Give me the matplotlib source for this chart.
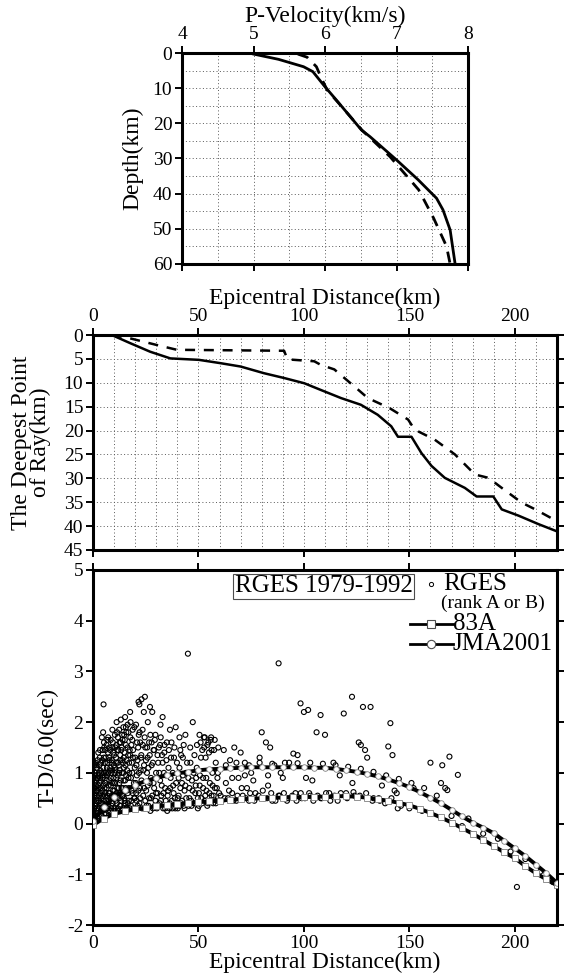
import numpy as np
import matplotlib
matplotlib.use("Agg")
import matplotlib.pyplot as plt
from matplotlib.lines import Line2D

plt.rcParams['font.family'] = ['Liberation Serif', 'DejaVu Serif']
plt.rcParams['axes.unicode_minus'] = False

# --- top panel: P-velocity profiles (velocity km/s, depth km)
vel_solid = [5.0, 5.35, 5.70, 5.83, 6.00, 6.16, 6.51, 6.63, 7.00, 7.30, 7.56, 7.65, 7.75, 7.82]
dep_solid = [0.3, 1.8, 3.9, 5.3, 9.6, 13.4, 21.9, 23.8, 30.4, 36.0, 41.3, 44.6, 50.3, 60.0]
vel_dash = [5.62, 5.75, 5.88, 5.95, 6.03, 6.18, 6.52, 6.91, 7.31, 7.52, 7.70, 7.75]
dep_dash = [0.3, 1.2, 3.9, 7.2, 10.5, 14.0, 22.0, 29.5, 38.9, 47.0, 55.0, 60.0]

# --- middle panel: deepest point of ray vs epicentral distance
ray_dist_solid = [8.9, 17.6, 27.1, 36.7, 50.2, 60.5, 70.0, 81.1, 90.6, 100.2, 108.0, 117.6,
                  127.0, 135.0, 141.4, 144.6, 151.0, 155.7, 160.5, 166.8, 176.3, 181.9,
                  189.8, 193.8, 201.7, 211.3, 220.0]
ray_dep_solid = [0.0, 1.7, 3.5, 4.9, 5.2, 5.9, 6.6, 8.0, 9.0, 10.1, 11.5, 13.2,
                 14.6, 16.7, 19.1, 21.3, 21.3, 24.7, 27.4, 29.9, 32.0, 33.8,
                 33.8, 36.5, 37.8, 39.6, 41.1]
ray_dist_dash = [8.9, 17.6, 30.3, 39.8, 90.6, 92.2, 104.9, 108.0, 114.4, 119.2, 124.8,
                 130.3, 140.6, 149.4, 152.5, 162.0, 171.6, 181.1, 187.5, 193.8, 203.3,
                 209.7, 217.6]
ray_dep_dash = [0.0, 0.7, 2.1, 3.1, 3.3, 5.1, 5.5, 6.25, 7.2, 9.0, 11.1,
                13.2, 15.3, 17.7, 19.8, 21.9, 25.0, 29.2, 29.9, 32.0, 35.1,
                36.5, 38.4]

# --- bottom panel: travel-time residual curves
model_dist = [0, 5, 10, 15, 20, 25, 30, 35, 40, 45, 50, 55, 60, 65, 70, 75, 80, 85, 90,
              95, 100, 105, 110, 115, 120, 125, 130, 135, 140, 145, 150, 155, 160, 165,
              170, 175, 180, 185, 190, 195, 200, 205, 210, 215, 220]
td_jma2001 = [0.05, 0.32, 0.52, 0.66, 0.76, 0.84, 0.90, 0.95, 0.99, 1.02, 1.05, 1.07, 1.08,
              1.09, 1.10, 1.11, 1.11, 1.11, 1.11, 1.11, 1.11, 1.10, 1.10, 1.08, 1.05, 1.02,
              0.98, 0.93, 0.87, 0.80, 0.72, 0.62, 0.51, 0.40, 0.27, 0.14, 0.02, -0.08,
              -0.19, -0.34, -0.49, -0.64, -0.81, -0.98, -1.17]
td_83a = [-0.03, 0.10, 0.19, 0.24, 0.28, 0.31, 0.34, 0.36, 0.38, 0.40, 0.42, 0.44, 0.45,
          0.47, 0.48, 0.49, 0.50, 0.51, 0.51, 0.52, 0.52, 0.53, 0.53, 0.54, 0.54, 0.53,
          0.51, 0.48, 0.45, 0.41, 0.36, 0.29, 0.21, 0.12, 0.02, -0.09, -0.20, -0.32,
          -0.44, -0.57, -0.68, -0.84, -0.98, -1.10, -1.22]

rges_pts = [
    (0.3, 0.05), (0.5, 0.3), (0.6, 0.55), (0.8, 0.8), (1.0, 1.0), (0.4, 0.7), (1.2, 0.15),
    (1.5, 0.45), (1.7, 0.65), (1.9, 0.9), (2.0, 1.1), (1.3, 1.2), (0.7, 0.95), (1.1, 0.35),
    (1.8, 0.25), (0.2, 0.45), (0.9, 0.6), (1.6, 0.85), (0.4, 0.2), (1.4, 0.75), (0.6, 1.15),
    (2.2, 0.2), (2.4, 0.5), (2.6, 0.7), (2.8, 1.0), (3.0, 1.15), (3.2, 0.35), (3.4, 0.6),
    (3.6, 0.85), (3.8, 1.2), (2.5, 1.4), (3.1, 0.1), (3.5, 1.05), (2.9, 0.45), (3.9, 0.5),
    (2.3, 0.9), (3.3, 1.45), (3.7, 0.25), (2.7, 0.3), (3.2, 0.8), (2.1, 0.65),
    (4.1, 0.15), (4.3, 0.4), (4.5, 0.65), (4.7, 0.9), (4.9, 1.1), (5.1, 1.3), (5.3, 1.5),
    (5.5, 0.3), (5.7, 0.55), (5.9, 0.8), (4.4, 1.25), (5.0, 2.35), (4.8, 1.8), (5.2, 1.0),
    (5.6, 1.2), (4.6, 0.25), (5.8, 1.45), (4.2, 1.7), (4.5, 0.95), (5.4, 0.7),
    (6.1, 0.2), (6.3, 0.45), (6.5, 0.7), (6.7, 0.95), (6.9, 1.2), (7.1, 1.4), (7.3, 0.35),
    (7.5, 0.6), (7.7, 0.85), (7.9, 1.05), (6.4, 1.55), (7.2, 1.7), (6.8, 0.3), (7.6, 1.3),
    (6.2, 1.0), (7.8, 1.5), (7.0, 0.55),
    (8.1, 0.25), (8.3, 0.5), (8.5, 0.75), (8.7, 1.0), (8.9, 1.25), (9.1, 1.5), (9.3, 0.4),
    (9.5, 0.65), (9.7, 0.9), (9.9, 1.15), (8.4, 1.65), (9.2, 1.85), (8.8, 0.35), (9.6, 1.4),
    (8.2, 1.1), (9.8, 0.55), (9.0, 0.8),
    (10.1, 0.3), (10.3, 0.55), (10.5, 0.8), (10.7, 1.05), (10.9, 1.3), (11.1, 1.55),
    (11.3, 0.4), (11.5, 0.7), (11.7, 0.95), (11.9, 1.2), (10.4, 1.75), (11.2, 2.0),
    (10.8, 0.45), (11.6, 1.45), (10.2, 1.0), (11.8, 1.7), (11.0, 0.6),
    (12.1, 0.25), (12.3, 0.5), (12.5, 0.8), (12.7, 1.05), (12.9, 1.35), (13.1, 1.6),
    (13.3, 0.45), (13.5, 0.7), (13.7, 1.0), (13.9, 1.25), (12.4, 1.85), (13.2, 2.05),
    (12.8, 0.6), (13.6, 1.5), (12.2, 1.15), (13.8, 1.75), (13.0, 0.35),
    (14.1, 0.3), (14.3, 0.55), (14.5, 0.85), (14.7, 1.1), (14.9, 1.4), (15.1, 1.65),
    (15.3, 0.4), (15.5, 0.7), (15.7, 0.95), (15.9, 1.25), (14.4, 1.9), (15.2, 2.1),
    (14.8, 0.5), (15.6, 1.55), (14.2, 1.2), (15.8, 1.8), (15.0, 0.35),
    (16.2, 0.3), (16.5, 0.6), (16.8, 0.9), (17.1, 1.2), (17.4, 1.45), (17.7, 1.7),
    (18.0, 0.35), (18.3, 0.65), (18.6, 1.0), (18.9, 1.3), (16.4, 1.95), (17.6, 2.2),
    (17.0, 0.45), (18.2, 1.55), (16.7, 1.35), (18.8, 1.85), (19.5, 0.5), (19.8, 1.1),
    (20.2, 0.3), (20.5, 0.6), (20.8, 0.95), (21.1, 1.25), (21.4, 1.5), (21.7, 1.75),
    (22.0, 0.4), (22.3, 0.7), (22.6, 1.05), (22.9, 1.35), (20.4, 1.95), (21.6, 2.4),
    (23.0, 2.45), (22.4, 1.6), (20.7, 0.45), (23.5, 1.85), (23.8, 0.55), (24.2, 1.15),
    (24.5, 0.3), (24.8, 1.5), (24.1, 2.2), (25.2, 0.65), (25.6, 1.0), (25.9, 1.3),
    (26.3, 0.35), (26.6, 1.6), (26.9, 0.8), (27.2, 1.75), (27.5, 0.5), (27.8, 1.15),
    (28.1, 2.2), (28.4, 0.3), (28.7, 1.45), (29.0, 0.7), (29.3, 1.65), (29.6, 0.45),
    (29.9, 1.0), (26.0, 2.0), (30.3, 0.3), (30.6, 0.6), (30.9, 1.2), (31.2, 1.5),
    (31.5, 0.4), (31.8, 0.85), (32.1, 1.7), (32.4, 0.55), (32.7, 1.35), (33.0, 2.1),
    (33.3, 0.3), (33.6, 1.0), (33.9, 1.55), (34.2, 0.7), (34.5, 0.45), (34.8, 1.25),
    (35.2, 0.25), (35.6, 0.65), (36.0, 1.45), (36.4, 0.4), (36.8, 0.9), (37.2, 1.6),
    (37.6, 0.3), (38.0, 0.75), (38.4, 1.3), (38.8, 0.5), (39.2, 1.9), (39.6, 0.35),
    (40.2, 0.3), (40.6, 0.55), (41.0, 1.1), (41.4, 1.45), (41.8, 0.4), (42.2, 0.8),
    (42.6, 1.3), (43.0, 0.35), (43.4, 0.65), (43.8, 1.75), (44.2, 0.5), (44.6, 1.2),
    (45.0, 3.35), (45.3, 0.35), (45.7, 0.7), (46.1, 1.5), (46.5, 0.45), (46.9, 0.85),
    (47.3, 2.0), (47.7, 0.4), (48.1, 1.35), (48.5, 0.6), (48.9, 0.9), (49.3, 1.55),
    (49.7, 0.5), (50.2, 0.35), (50.6, 0.75), (51.0, 1.6), (51.4, 0.5), (51.8, 1.45),
    (52.2, 0.9), (52.6, 1.7), (53.0, 0.45), (53.4, 1.3), (53.8, 0.65), (54.2, 1.55),
    (54.6, 0.4), (55.0, 1.4), (55.4, 0.8), (55.8, 1.65), (56.2, 0.55), (56.6, 1.0),
    (57.0, 0.4), (57.4, 1.45), (57.8, 0.7), (58.2, 1.2), (58.6, 0.45), (59.0, 0.9),
    (59.4, 1.5), (59.8, 0.6), (61.0, 0.45), (62.0, 1.45), (63.0, 0.8), (64.0, 0.5),
    (65.0, 1.25), (66.0, 0.6), (67.0, 1.5), (68.0, 0.45), (69.0, 0.9), (70.0, 1.4),
    (71.0, 0.55), (72.0, 1.2), (73.0, 0.7), (74.0, 0.45), (75.0, 1.0), (77.0, 0.6),
    (79.0, 1.3), (80.0, 1.8), (81.0, 0.5), (82.0, 1.6), (83.0, 0.75), (84.0, 1.5),
    (85.0, 0.45), (86.0, 1.15), (88.0, 0.55), (88.0, 3.16), (90.0, 0.9), (92.0, 0.45),
    (93.0, 1.2), (95.0, 1.38), (96.0, 0.6), (97.0, 1.35), (98.4, 2.37), (99.0, 0.5),
    (100.0, 2.2), (102.0, 2.24), (103.0, 0.55), (104.0, 0.85), (106.0, 1.8), (107.9, 2.14),
    (108.0, 0.5), (110.0, 1.75), (112.0, 0.6), (114.0, 1.2), (116.0, 0.45), (118.9, 2.17),
    (120.0, 0.6), (122.8, 2.5), (124.0, 0.55), (126.0, 1.6), (127.0, 1.55), (128.0, 2.3),
    (129.0, 1.45), (130.0, 1.3), (131.6, 2.3), (133.0, 0.5), (136.0, 0.45), (140.0, 1.52),
    (141.0, 1.98), (142.0, 1.35), (144.0, 0.6), (146.0, 0.35), (150.0, 0.3), (152.0, 0.7),
    (156.0, 0.25), (160.0, 1.2), (165.6, 1.15), (165.0, 0.8), (167.0, 0.7), (168.0, 0.66),
    (169.0, 1.32), (173.0, 0.96), (175.0, -0.05), (201.0, -1.25),
    # second pass over the dense part of the cloud
    (0.2, 0.9), (0.3, 1.2), (0.5, 0.1), (0.8, 0.4), (1.0, 0.7), (1.2, 0.95), (1.4, 0.05),
    (1.6, 1.15), (1.8, 0.55), (2.0, 0.3), (2.2, 1.25), (2.4, 0.75), (2.6, 0.95), (2.8, 0.15),
    (3.0, 0.55), (3.2, 1.3), (3.4, 0.9), (3.6, 0.4), (3.8, 0.7), (4.0, 1.0), (4.2, 0.3),
    (4.4, 0.55), (4.6, 1.45), (4.8, 0.75), (5.0, 0.45), (5.2, 1.6), (5.4, 0.2), (5.6, 0.95),
    (5.8, 0.6), (6.0, 1.3), (6.2, 0.4), (6.4, 0.85), (6.6, 1.1), (6.8, 1.65), (7.0, 0.25),
    (7.2, 1.0), (7.4, 0.75), (7.6, 0.45), (7.8, 1.25), (8.0, 0.6), (8.2, 1.45), (8.4, 0.9),
    (8.6, 0.3), (8.8, 1.2), (9.0, 0.55), (9.2, 1.05), (9.4, 1.6), (9.6, 0.25), (9.8, 0.8),
    (10.0, 1.35), (10.2, 0.65), (10.4, 1.1), (10.6, 1.5), (10.8, 0.25), (11.0, 0.9),
    (11.2, 1.2), (11.4, 1.8), (11.6, 0.55), (11.8, 0.3), (12.0, 1.45), (12.2, 0.7),
    (12.4, 1.0), (12.6, 1.6), (12.8, 0.35), (13.0, 1.25), (13.2, 0.85), (13.4, 1.45),
    (13.6, 0.25), (13.8, 0.55), (14.0, 1.65), (14.2, 0.7), (14.4, 1.0), (14.6, 1.3),
    (14.8, 1.75), (15.0, 0.45), (15.2, 0.85), (15.4, 1.15), (15.6, 1.9), (15.8, 0.3),
    (16.0, 0.65), (16.2, 1.05), (16.4, 1.5), (16.6, 0.4), (16.8, 1.8), (17.0, 0.7),
    (17.2, 1.0), (17.4, 0.3), (17.6, 1.35), (17.8, 2.0), (18.0, 0.9), (18.2, 0.45),
    (18.4, 1.2), (18.6, 1.65), (18.8, 0.6), (19.0, 1.45), (19.2, 0.3), (19.4, 0.8),
    (19.6, 1.9), (19.8, 0.5), (20.0, 1.3), (20.3, 0.8), (20.6, 1.15), (20.9, 1.6),
    (21.2, 0.35), (21.5, 0.65), (21.8, 1.0), (22.1, 1.8), (22.4, 0.5), (22.7, 1.3),
    (23.0, 0.85), (23.3, 0.3), (23.6, 1.55), (23.9, 1.05), (24.2, 0.7), (24.5, 1.7),
    (24.8, 0.45), (25.1, 1.25), (25.4, 0.35), (25.7, 1.5), (26.0, 0.75), (26.3, 1.1),
    (26.6, 0.5), (26.9, 1.35), (27.2, 0.25), (27.5, 0.9), (27.8, 1.6), (28.1, 0.55),
    (28.4, 1.2), (28.7, 0.8), (29.0, 1.45), (29.3, 0.35), (29.6, 1.75), (29.9, 0.6),
    (22.0, 2.35), (24.6, 2.5), (27.0, 2.3),
    (30.2, 0.9), (30.6, 1.35), (31.0, 0.35), (31.4, 1.0), (31.8, 1.55), (32.2, 0.45),
    (32.6, 0.75), (33.0, 1.2), (33.4, 0.6), (33.8, 1.4), (34.2, 0.3), (34.6, 0.95),
    (35.0, 1.6), (35.4, 0.55), (35.8, 1.1), (36.2, 0.3), (36.6, 0.7), (37.0, 1.3),
    (37.4, 0.45), (37.8, 1.0), (38.2, 0.6), (38.6, 1.5), (39.0, 0.3), (39.4, 0.8),
    (39.8, 1.2), (40.2, 0.5), (40.6, 0.9), (41.0, 0.35), (41.4, 0.7), (41.8, 1.35),
    (42.2, 0.45), (42.6, 0.95), (43.0, 1.55), (43.4, 0.3), (43.8, 0.75), (44.2, 1.0),
    (44.6, 0.4), (32.0, 1.95), (36.5, 1.85), (41.0, 1.7),
    (45.2, 0.9), (45.7, 0.5), (46.2, 1.2), (46.7, 0.35), (47.2, 0.65), (47.7, 1.0),
    (48.2, 0.4), (48.7, 0.75), (49.2, 1.1), (49.7, 0.3), (50.2, 0.6), (50.7, 0.95),
    (51.2, 1.3), (51.7, 0.4), (52.2, 0.7), (52.7, 1.5), (53.2, 0.55), (53.7, 0.9),
    (54.2, 0.35), (54.7, 1.6), (55.2, 0.6), (55.7, 0.45), (56.2, 1.45), (56.7, 0.75),
    (57.2, 0.55), (57.7, 1.65), (58.2, 0.4), (58.7, 0.7), (59.2, 1.0), (59.7, 0.45),
    (50.5, 1.75), (53.0, 1.7), (56.0, 1.7),
    # points hugging the model curves further out
    (60.5, 0.55), (62.5, 0.5), (64.5, 0.65), (66.5, 0.45), (68.5, 0.55), (70.5, 0.7),
    (72.5, 0.5), (74.5, 0.6), (76.5, 0.45), (78.5, 0.55), (80.5, 0.65), (82.5, 0.5),
    (84.5, 0.6), (86.5, 0.45), (88.5, 0.55), (90.5, 0.6), (92.5, 0.5), (94.5, 0.55),
    (96.5, 0.45), (98.5, 0.6), (100.5, 0.5), (102.5, 0.6), (104.5, 0.45), (106.5, 0.55),
    (108.5, 0.5), (110.5, 0.6), (112.5, 0.45), (114.5, 0.55), (117.5, 0.6), (120.5, 0.5),
    (123.5, 0.62), (126.5, 0.55), (129.5, 0.6), (132.5, 0.45), (135.5, 0.5), (138.5, 0.4),
    (141.5, 0.5), (144.5, 0.3), (63.0, 1.15), (68.0, 1.2), (74.0, 1.15), (79.0, 1.2),
    (85.0, 1.18), (91.0, 1.2), (97.0, 1.19), (103.0, 1.2), (109.0, 1.18), (115.0, 1.15),
    (121.0, 1.12), (127.0, 1.08), (133.0, 1.02), (139.0, 0.95), (145.0, 0.88), (151.0, 0.8),
    (157.0, 0.7), (163.0, 0.55), (66.0, 0.9), (72.0, 0.95), (76.0, 0.85), (83.0, 0.95),
    (89.0, 1.0), (101.0, 0.9), (117.0, 0.95), (123.0, 0.8), (137.0, 0.75), (143.0, 0.65),
    (170.0, 0.15), (178.0, 0.1), (185.0, -0.2), (192.0, -0.3), (198.0, -0.55),
    (205.0, -0.7), (212.0, -0.95), (218.0, -1.15),
]
rges_dist = np.array([p[0] for p in rges_pts])
rges_td = np.array([p[1] for p in rges_pts])

fig = plt.figure(figsize=(5.67, 9.8), dpi=100)

spine_w = 2.2
tick_fs = 14
label_fs = 17


def style(ax):
    for s in ax.spines.values():
        s.set_linewidth(spine_w)
    ax.tick_params(which='major', direction='out', length=5, width=1.4,
                   labelsize=tick_fs, pad=2)


# ---------------- top panel
ax1 = fig.add_axes([182 / 567, 1 - 264 / 980, 286 / 567, 211 / 980])
ax1.plot(vel_solid, dep_solid, color='black', lw=2.0)
ax1.plot(vel_dash, dep_dash, color='black', lw=2.0, dashes=(4, 3))
ax1.set_xlim(4, 8)
ax1.set_ylim(60, 0)
ax1.set_xticks([4, 5, 6, 7, 8])
ax1.set_yticks(range(0, 61, 10))
ax1.set_xticks(np.arange(4.5, 8, 0.5), minor=True)
ax1.set_yticks(range(5, 60, 5), minor=True)
ax1.tick_params(which='minor', length=0)
ax1.grid(which='both', ls=(0, (1, 2.5)), color='0.35', lw=0.7)
ax1.xaxis.set_ticks_position('both')
ax1.xaxis.set_label_position('top')
ax1.tick_params(axis='x', labeltop=True, labelbottom=False)
style(ax1)
ax1.set_xlabel('P-Velocity(km/s)', fontsize=label_fs, labelpad=3)
ax1.set_ylabel('Depth(km)', fontsize=label_fs)
ax1.yaxis.set_label_coords(-0.135, 0.5)

# ---------------- middle panel
ax2 = fig.add_axes([93 / 567, 1 - 550 / 980, 464 / 567, 215 / 980])
ax2.plot(ray_dist_solid, ray_dep_solid, color='black', lw=1.8)
ax2.plot(ray_dist_dash, ray_dep_dash, color='black', lw=1.8, dashes=(4, 3.5))
ax2.set_xlim(0, 220)
ax2.set_ylim(45, 0)
ax2.set_xticks(range(0, 201, 50))
ax2.set_yticks(range(0, 46, 5))
ax2.set_xticks(range(10, 220, 10), minor=True)
ax2.tick_params(which='minor', length=0)
ax2.grid(which='minor', axis='x', ls=(0, (1, 2.5)), color='0.35', lw=0.7)
ax2.grid(which='major', ls=(0, (1, 2.5)), color='0.35', lw=0.7)
ax2.xaxis.set_ticks_position('both')
ax2.yaxis.set_ticks_position('both')
ax2.xaxis.set_label_position('top')
ax2.tick_params(axis='x', labeltop=True, labelbottom=False)
style(ax2)
ax2.set_xlabel('Epicentral Distance(km)', fontsize=label_fs, labelpad=3)
ax2.set_ylabel('The Deepest Point\nof Ray(km)', fontsize=label_fs, linespacing=0.85)
ax2.yaxis.set_label_coords(-0.09, 0.5)

# ---------------- bottom panel
ax3 = fig.add_axes([93 / 567, 1 - 925 / 980, 464 / 567, 355 / 980])
ax3.scatter(rges_dist, rges_td, s=13, facecolors='none', edgecolors='black',
            linewidths=0.8, zorder=2)
ax3.plot(model_dist, td_83a, color='black', lw=2.8, zorder=3)
ax3.plot(model_dist, td_83a, ls='none', marker='s', ms=4, mfc='white',
         mec='0.5', mew=0.6, zorder=4)
ax3.plot(model_dist, td_jma2001, color='black', lw=2.8, zorder=3)
ax3.plot(model_dist, td_jma2001, ls='none', marker='o', ms=4, mfc='white',
         mec='0.5', mew=0.6, zorder=4)
ax3.set_xlim(0, 220)
ax3.set_ylim(-2, 5)
ax3.set_xticks(range(0, 201, 50))
ax3.set_yticks(range(-2, 6))
ax3.xaxis.set_ticks_position('both')
ax3.yaxis.set_ticks_position('both')
style(ax3)
ax3.set_xlabel('Epicentral Distance(km)', fontsize=label_fs, labelpad=0)
ax3.set_ylabel('T-D/6.0(sec)', fontsize=label_fs)
ax3.yaxis.set_label_coords(-0.075, 0.5)

# boxed title and hand-built legend
ax3.text(0.305, 0.985, 'RGES 1979-1992', transform=ax3.transAxes, fontsize=18,
         ha='left', va='top',
         bbox=dict(boxstyle='square,pad=0.05', fc='white', ec='0.3', lw=0.8))
ax3.add_line(Line2D([0.728], [0.96], transform=ax3.transAxes, ls='none', marker='o',
                    ms=3, mfc='white', mec='black', mew=0.7))
ax3.text(0.755, 0.96, 'RGES', transform=ax3.transAxes, fontsize=18, va='center')
ax3.text(0.75, 0.905, '(rank A or B)', transform=ax3.transAxes, fontsize=14, va='center')
for yy, mk, lab in [(0.848, 's', '83A'), (0.792, 'o', 'JMA2001')]:
    ax3.add_line(Line2D([0.683, 0.775], [yy, yy], transform=ax3.transAxes, color='black',
                        lw=2.0))
    ax3.add_line(Line2D([0.729], [yy], transform=ax3.transAxes, ls='none', marker=mk,
                        ms=6, mfc='white', mec='0.3', mew=0.8))
    ax3.text(0.775, yy, lab, transform=ax3.transAxes, fontsize=18, va='center')

fig.savefig('out.png', dpi=100)
